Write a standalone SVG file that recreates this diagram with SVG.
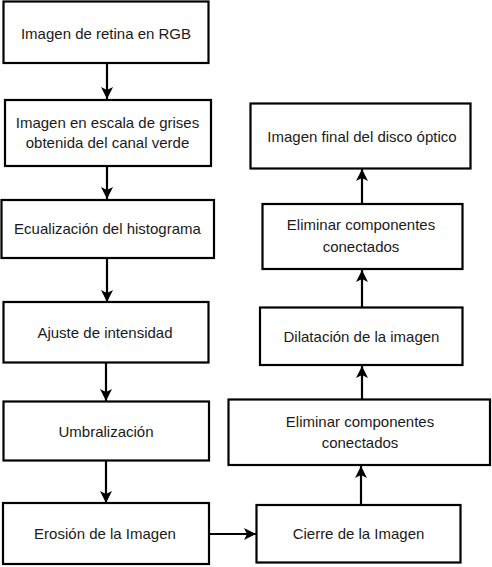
<svg xmlns="http://www.w3.org/2000/svg" width="492" height="567" viewBox="0 0 492 567">
<defs>
<style>
.box{fill:#fff;stroke:#000;stroke-width:2.2}
.t{font-family:"Liberation Sans",Arial,sans-serif;font-size:15px;fill:#1a1a1a;text-anchor:middle}
.c{stroke:#000;stroke-width:2.2;fill:none}
</style>
<marker id="ah" markerUnits="userSpaceOnUse" markerWidth="14" markerHeight="14" viewBox="0 0 14 14" refX="12" refY="7" orient="auto">
<path d="M0,1 L12,7 L0,13 L3,7 Z" fill="#000"/>
</marker>
</defs>
<rect width="492" height="567" fill="#fff"/>
<g id="connectors">
<line class="c" x1="107" y1="63" x2="107" y2="99" marker-end="url(#ah)"/>
<line class="c" x1="107" y1="166" x2="107" y2="199" marker-end="url(#ah)"/>
<line class="c" x1="107" y1="258" x2="107" y2="302" marker-end="url(#ah)"/>
<line class="c" x1="106" y1="363" x2="106" y2="401" marker-end="url(#ah)"/>
<line class="c" x1="106" y1="461" x2="106" y2="503" marker-end="url(#ah)"/>
<line class="c" x1="209" y1="534" x2="256" y2="534" marker-end="url(#ah)"/>
<line class="c" x1="361" y1="505" x2="361" y2="466" marker-end="url(#ah)"/>
<line class="c" x1="362" y1="399" x2="362" y2="366" marker-end="url(#ah)"/>
<line class="c" x1="362" y1="307" x2="362" y2="270" marker-end="url(#ah)"/>
<line class="c" x1="362" y1="204" x2="362" y2="169" marker-end="url(#ah)"/>
</g>
<g id="n1"><rect class="box" x="3.5" y="1.5" width="205" height="61.5"/><text class="t" x="106" y="39">Imagen de retina en RGB</text></g>
<g id="n2"><rect class="box" x="5" y="100" width="206" height="66"/><text class="t" x="107.5" y="128">Imagen en escala de grises</text><text class="t" x="107.5" y="148">obtenida del canal verde</text></g>
<g id="n3"><rect class="box" x="1.5" y="200" width="212.5" height="58"/><text class="t" x="107.5" y="234">Ecualización del histograma</text></g>
<g id="n4"><rect class="box" x="3.5" y="302" width="205" height="60.5"/><text class="t" x="105" y="338">Ajuste de intensidad</text></g>
<g id="n5"><rect class="box" x="3.5" y="401.5" width="205.5" height="59"/><text class="t" x="106" y="437">Umbralización</text></g>
<g id="n6"><rect class="box" x="3" y="503" width="206" height="61"/><text class="t" x="105" y="539">Erosión de la Imagen</text></g>
<g id="n7"><rect class="box" x="256.5" y="505" width="204" height="57.5"/><text class="t" x="358.5" y="539">Cierre de la Imagen</text></g>
<g id="n8"><rect class="box" x="228.5" y="399.5" width="261.5" height="65.5"/><text class="t" x="360" y="426.5">Eliminar componentes</text><text class="t" x="360" y="448">conectados</text></g>
<g id="n9"><rect class="box" x="260" y="307.5" width="202.5" height="57.5"/><text class="t" x="361.5" y="341.5">Dilatación de la imagen</text></g>
<g id="n10"><rect class="box" x="262.5" y="204" width="200" height="65"/><text class="t" x="361" y="230">Eliminar componentes</text><text class="t" x="361" y="251.5">conectados</text></g>
<g id="n11"><rect class="box" x="250.5" y="103.5" width="220" height="65"/><text class="t" x="362" y="141.5">Imagen final del disco óptico</text></g>
</svg>
